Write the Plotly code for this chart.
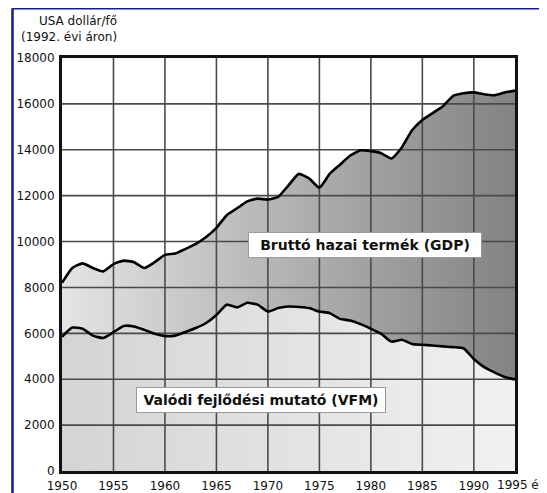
import plotly.graph_objects as go

# ---- data ----
years = list(range(1950, 1995))
gdp = [8200, 8850, 9050, 8850, 8700, 9020, 9170, 9100, 8850, 9100,
       9420, 9480, 9680, 9900, 10200, 10600, 11150, 11450, 11750, 11870,
       11830, 11950, 12450, 12950, 12750, 12350, 12950, 13350, 13750, 13980,
       13940, 13850, 13620, 14100, 14850, 15300, 15600, 15900, 16350, 16460,
       16500, 16420, 16380, 16500, 16580]
vfm = [5850, 6250, 6200, 5900, 5800, 6050, 6320, 6300, 6150, 5980,
       5880, 5900, 6060, 6230, 6450, 6800, 7250, 7130, 7330, 7250,
       6950, 7100, 7170, 7150, 7100, 6950, 6880, 6630, 6560, 6400,
       6200, 5980, 5640, 5720, 5540, 5500, 5470, 5430, 5400, 5350,
       4880, 4530, 4300, 4100, 3990]
x_ticks = [1950, 1955, 1960, 1965, 1970, 1975, 1980, 1985, 1990]
x_tick_text = [str(t) for t in x_ticks]
last_label = "1995 év"
y_ticks = list(range(0, 18001, 2000))
y_title = ["USA dollár/fő", "(1992. évi áron)"]
gdp_label = "Bruttó hazai termék (GDP)"
vfm_label = "Valódi fejlődési mutató (VFM)"

FONT = "DejaVu Sans"
x0, x1 = years[0], years[-1]
y0, y1 = y_ticks[0], y_ticks[-1]

fig = go.Figure()

# area under VFM
fig.add_trace(go.Scatter(
    x=years, y=vfm, mode="lines", line=dict(width=0, shape="spline", smoothing=0.5),
    fill="tozeroy",
    fillgradient=dict(type="horizontal",
                      colorscale=[[0, "#d4d4d4"], [1, "#f1f1f1"]]),
    hoverinfo="skip", showlegend=False))
# area between VFM and GDP
fig.add_trace(go.Scatter(
    x=years, y=gdp, mode="lines", line=dict(width=0, shape="spline", smoothing=0.5),
    fill="tonexty",
    fillgradient=dict(type="horizontal",
                      colorscale=[[0, "#e4e4e4"], [0.5, "#b2b2b2"], [1, "#838383"]]),
    hoverinfo="skip", showlegend=False))

# grid lines drawn above fills, from tick arrays
gx, gy = [], []
for t in x_ticks[1:]:
    gx += [t, t, None]
    gy += [y0, y1, None]
for v in y_ticks[1:-1]:
    gx += [x0, x1, None]
    gy += [v, v, None]
fig.add_trace(go.Scatter(x=gx, y=gy, mode="lines",
                         line=dict(color="#4a4a4a", width=1.6),
                         hoverinfo="skip", showlegend=False))

# curve outlines
for series in (gdp, vfm):
    fig.add_trace(go.Scatter(x=years, y=series, mode="lines",
                             line=dict(color="black", width=2.6, shape="spline", smoothing=0.5),
                             showlegend=False))

# the page body has an 8px margin, so the figure is sized/offset to compensate
fig.update_layout(
    width=539, height=485,
    margin=dict(l=54, r=32, t=50, b=22, autoexpand=False),
    paper_bgcolor="white", plot_bgcolor="white",
    font=dict(family=FONT, size=12, color="#111"),
    xaxis=dict(range=[x0, x1], tickvals=x_ticks, ticktext=x_tick_text,
               showgrid=False, zeroline=False, showline=True, mirror=True,
               linecolor="#111", linewidth=3, ticks="", ticklabelstandoff=2,
               layer="above traces", fixedrange=True),
    yaxis=dict(range=[y0, y1], tickvals=y_ticks, tickformat="d",
               showgrid=False, zeroline=False, showline=True, mirror=True,
               linecolor="#111", linewidth=3, ticks="", ticklabelstandoff=2,
               layer="above traces", fixedrange=True),
    annotations=[
        dict(x=x1, y=0, xref="x", yref="paper", text=last_label, showarrow=False,
             xanchor="left", yanchor="top", xshift=-20, yshift=-5,
             font=dict(family=FONT, size=12, color="#111")),
        dict(x=0.125, y=1.029, xref="paper", yref="paper",
             text=y_title[0] + "<br>" + y_title[1], showarrow=False,
             xanchor="right", yanchor="bottom", align="right",
             font=dict(family=FONT, size=12, color="#111")),
        dict(x=1979.4, y=9870, xref="x", yref="y", text="<b>" + gdp_label + "</b>",
             showarrow=False, width=228, height=20, bgcolor="white",
             bordercolor="#9a9a9a", borderwidth=1, borderpad=2,
             font=dict(family=FONT, size=14, color="#111")),
        dict(x=1969.3, y=3110, xref="x", yref="y", text="<b>" + vfm_label + "</b>",
             showarrow=False, width=244, height=20, bgcolor="white",
             bordercolor="#9a9a9a", borderwidth=1, borderpad=2,
             font=dict(family=FONT, size=14, color="#111")),
    ],
    shapes=[
        dict(type="line", xref="paper", yref="paper", x0=-0.1093, x1=-0.1093,
             y0=1.1205, y1=-0.1, line=dict(color="#1a1a8a", width=2.5)),
        dict(type="line", xref="paper", yref="paper", x0=-0.1093, x1=1.1,
             y0=1.1205, y1=1.1205, line=dict(color="#1a1a8a", width=2.5)),
    ],
)

fig.write_html("out.html")
